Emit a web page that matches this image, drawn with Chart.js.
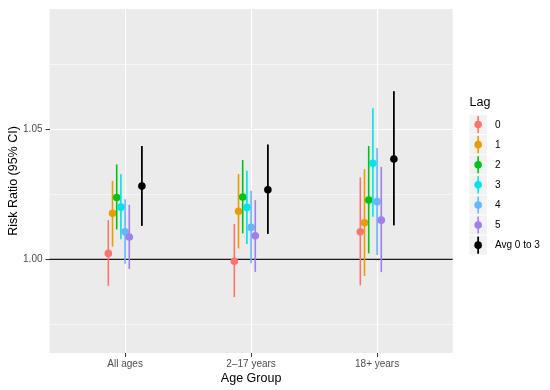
<!DOCTYPE html>
<html>
<head>
<meta charset="utf-8">
<script src="https://cdn.jsdelivr.net/npm/chart.js@4/dist/chart.umd.min.js"></script>
<style>
  html, body { margin: 0; padding: 0; background: #ffffff; }
  #wrap { width: 550px; height: 390px; }
</style>
</head>
<body>
<div id="wrap"><canvas id="c" width="550" height="390"></canvas></div>
<script>
// ---- data ----
const categories = ['All ages', '2\u201317 years', '18+ years'];
const seriesNames = ['0', '1', '2', '3', '4', '5', 'Avg 0 to 3'];
const seriesColors = ['#F8766D', '#E69F00', '#00C21A', '#00E3EA', '#66B5FF', '#A17FEA', '#000000'];

const lag0Est = [1.0023, 0.9993, 1.0106];
const lag0Lo  = [0.9898, 0.9855, 0.9900];
const lag0Hi  = [1.0151, 1.0136, 1.0315];

const lag1Est = [1.0177, 1.0185, 1.0141];
const lag1Lo  = [1.0049, 1.0042, 0.9936];
const lag1Hi  = [1.0302, 1.0328, 1.0347];

const lag2Est = [1.0238, 1.0240, 1.0228];
const lag2Lo  = [1.0115, 1.0100, 1.0023];
const lag2Hi  = [1.0365, 1.0382, 1.0436];

const lag3Est = [1.0201, 1.0200, 1.0370];
const lag3Lo  = [1.0077, 1.0059, 1.0164];
const lag3Hi  = [1.0327, 1.0341, 1.0581];

const lag4Est = [1.0106, 1.0123, 1.0222];
const lag4Lo  = [0.9983, 0.9985, 1.0017];
const lag4Hi  = [1.0231, 1.0264, 1.0428];

const lag5Est = [1.0086, 1.0091, 1.0151];
const lag5Lo  = [0.9963, 0.9952, 0.9951];
const lag5Hi  = [1.0210, 1.0228, 1.0356];

const avgEst = [1.0282, 1.0268, 1.0386];
const avgLo  = [1.0129, 1.0098, 1.0131];
const avgHi  = [1.0436, 1.0442, 1.0647];

const yMajorTicks = [1.00, 1.05];
const yMinorTicks = [0.975, 1.025, 1.075];
const refLine = 1.00;

// dodge slot per series (in units of the dodge step)
const dodgeSlots = [-4, -3, -2, -1, 0, 1, 4];

// ---- build ----
const allEst = [lag0Est, lag1Est, lag2Est, lag3Est, lag4Est, lag5Est, avgEst];
const allLo  = [lag0Lo, lag1Lo, lag2Lo, lag3Lo, lag4Lo, lag5Lo, avgLo];
const allHi  = [lag0Hi, lag1Hi, lag2Hi, lag3Hi, lag4Hi, lag5Hi, avgHi];
const STEP = 0.0333;

const datasets = seriesNames.map((name, s) => ({
  label: name,
  data: categories.map((c, i) => ({ x: i + 1 + dodgeSlots[s] * STEP, y: allEst[s][i], lo: allLo[s][i], hi: allHi[s][i] })),
  backgroundColor: seriesColors[s],
  borderColor: seriesColors[s],
  borderWidth: 0,
  pointRadius: 3.8,
  pointHoverRadius: 3.8,
  order: 20 - s
}));

const FONT = '"Liberation Sans", Arial, Helvetica, sans-serif';

const ggPlugin = {
  id: 'gg',
  beforeDraw(chart) {
    const { ctx, chartArea: a } = chart;
    ctx.save();
    ctx.fillStyle = '#EBEBEB';
    ctx.fillRect(a.left, a.top, a.right - a.left, a.bottom - a.top);
    ctx.restore();
  },
  beforeDatasetsDraw(chart) {
    const { ctx, chartArea: a, scales } = chart;
    const y = scales.y.getPixelForValue(refLine);
    ctx.save();
    ctx.strokeStyle = '#1a1a1a';
    ctx.lineWidth = 1.2;
    ctx.beginPath();
    ctx.moveTo(a.left, y);
    ctx.lineTo(a.right, y);
    ctx.stroke();
    ctx.restore();
  },
  beforeDatasetDraw(chart, args) {
    const { ctx, scales } = chart;
    const ds = chart.data.datasets[args.index];
    ctx.save();
    ctx.strokeStyle = ds.borderColor;
    ctx.lineWidth = args.index === 6 ? 1.8 : 1.6;
    ds.data.forEach(p => {
      const x = scales.x.getPixelForValue(p.x);
      ctx.beginPath();
      ctx.moveTo(x, scales.y.getPixelForValue(p.lo));
      ctx.lineTo(x, scales.y.getPixelForValue(p.hi));
      ctx.stroke();
    });
    ctx.restore();
  },
  afterDraw(chart) {
    const { ctx } = chart;
    ctx.save();
    // legend
    const lx = 469.5, titleY = 103, keyTop = 114.5, keyW = 17.3, keyH = 20.1;
    ctx.fillStyle = '#000000';
    ctx.font = '12.5px ' + FONT;
    ctx.textBaseline = 'middle';
    ctx.textAlign = 'left';
    ctx.fillText('Lag', lx, titleY);
    seriesNames.forEach((name, s) => {
      const top = keyTop + s * keyH;
      ctx.fillStyle = '#F2F2F2';
      ctx.fillRect(lx, top + 0.5, keyW, keyH - 1);
      const cx = lx + keyW / 2, cy = top + keyH / 2;
      ctx.strokeStyle = seriesColors[s];
      ctx.lineWidth = s === 6 ? 1.8 : 1.6;
      ctx.beginPath();
      ctx.moveTo(cx, top + 1.5);
      ctx.lineTo(cx, top + keyH - 1.5);
      ctx.stroke();
      ctx.fillStyle = seriesColors[s];
      ctx.beginPath();
      ctx.arc(cx, cy, 3.8, 0, Math.PI * 2);
      ctx.fill();
      ctx.fillStyle = '#000000';
      ctx.font = '10px ' + FONT;
      ctx.fillText(name, 495, cy + 0.5);
    });
    ctx.restore();
  }
};

new Chart(document.getElementById('c'), {
  type: 'scatter',
  data: { datasets },
  options: {
    responsive: false,
    animation: false,
    devicePixelRatio: 1,
    layout: { padding: { top: 9, right: 97.3, left: 0, bottom: 0 } },
    plugins: { legend: { display: false }, tooltip: { enabled: false } },
    scales: {
      x: {
        type: 'linear',
        min: 0.4,
        max: 3.6,
        afterBuildTicks: (scale) => { scale.ticks = categories.map((c, i) => ({ value: i + 1 })); },
        afterFit: (scale) => { scale.height = 37; },
        ticks: {
          autoSkip: false,
          maxRotation: 0,
          padding: 1,
          color: '#4D4D4D',
          font: { family: FONT, size: 10 },
          callback: (v) => categories[Math.round(v) - 1]
        },
        grid: {
          color: '#FFFFFF',
          lineWidth: 1.1,
          drawTicks: true,
          tickLength: 4,
          tickColor: '#333333',
          tickWidth: 1
        },
        border: { display: false },
        title: {
          display: true,
          text: 'Age Group',
          color: '#000000',
          font: { family: FONT, size: 12.5 },
          padding: { top: 5.5, bottom: 4 }
        }
      },
      y: {
        type: 'linear',
        min: 0.964,
        max: 1.0963,
        afterBuildTicks: (scale) => {
          scale.ticks = [...yMinorTicks, ...yMajorTicks].sort((a, b) => a - b).map(v => ({ value: v }));
        },
        afterFit: (scale) => { scale.width = 49.5; },
        ticks: {
          autoSkip: false,
          padding: 3,
          color: '#4D4D4D',
          font: { family: FONT, size: 10 },
          callback: (v) => yMajorTicks.some(m => Math.abs(m - v) < 1e-9) ? v.toFixed(2) : ''
        },
        grid: {
          color: (ctx) => '#FFFFFF',
          lineWidth: (ctx) => (ctx.tick && yMajorTicks.some(m => Math.abs(m - ctx.tick.value) < 1e-9)) ? 1.1 : 0.55,
          drawTicks: true,
          tickLength: 4,
          tickColor: (ctx) => (ctx.tick && yMajorTicks.some(m => Math.abs(m - ctx.tick.value) < 1e-9)) ? '#333333' : 'rgba(0,0,0,0)',
          tickWidth: 1
        },
        border: { display: false },
        title: {
          display: true,
          text: 'Risk Ratio (95% CI)',
          color: '#000000',
          font: { family: FONT, size: 12.5 },
          padding: { top: 6, bottom: 0 }
        }
      }
    }
  },
  plugins: [ggPlugin]
});
</script>
</body>
</html>
